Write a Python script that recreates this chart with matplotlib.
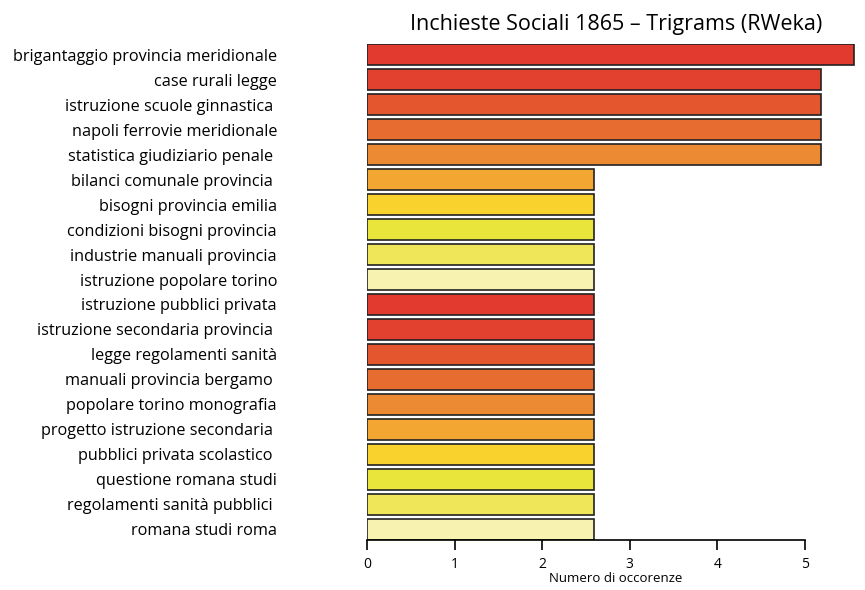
import matplotlib
matplotlib.use("Agg")
import matplotlib.pyplot as plt

labels = [
    "brigantaggio provincia meridionale",
    "case rurali legge",
    "istruzione scuole ginnastica ",
    "napoli ferrovie meridionale",
    "statistica giudiziario penale ",
    "bilanci comunale provincia ",
    "bisogni provincia emilia",
    "condizioni bisogni provincia",
    "industrie manuali provincia",
    "istruzione popolare torino",
    "istruzione pubblici privata",
    "istruzione secondaria provincia ",
    "legge regolamenti sanità",
    "manuali provincia bergamo ",
    "popolare torino monografia",
    "progetto istruzione secondaria ",
    "pubblici privata scolastico ",
    "questione romana studi",
    "regolamenti sanità pubblici ",
    "romana studi roma",
]
values = [5.56, 5.19, 5.19, 5.19, 5.19,
          2.59, 2.59, 2.59, 2.59, 2.59,
          2.59, 2.59, 2.59, 2.59, 2.59,
          2.59, 2.59, 2.59, 2.59, 2.59]
palette = ["#E23A2F", "#E2412F", "#E4572E", "#E76C30", "#EB8A33",
           "#F4A633", "#FAD22E", "#EAE53A", "#F0E65A", "#F8F2B0"]
colors = [palette[i % len(palette)] for i in range(len(values))]

plt.rcParams['font.family'] = ['Open Sans', 'DejaVu Sans']

fig = plt.figure(figsize=(8.65, 5.9), dpi=100)
ax = fig.add_axes([367.3 / 865, 1 - 540 / 590, (865 - 367.3) / 865, 496 / 590])

ypos = list(range(len(values)))
ax.barh(ypos, values, height=0.86, color=colors, edgecolor="#222222", linewidth=1.2)

ax.set_xlim(0, (865 - 367.3) / 87.5)
ax.set_ylim(19.43, -0.43)

ax.set_yticks(ypos)
ax.set_yticklabels(labels, fontsize=11.7)
ax.tick_params(axis='y', length=0, pad=65)

ax.set_xticks([0, 1, 2, 3, 4, 5])
ax.set_xticklabels(["0", "1", "2", "3", "4", "5"], fontsize=10)
ax.tick_params(axis='x', length=7, width=1.2, pad=5, direction='out')

for s in ["top", "right", "left"]:
    ax.spines[s].set_visible(False)
ax.spines["bottom"].set_bounds(0, 5)
ax.spines["bottom"].set_linewidth(1.2)

ax.set_xlabel("Numero di occorenze", fontsize=9.5, labelpad=0.5)
ax.set_title("Inchieste Sociali 1865 – Trigrams (RWeka)", fontsize=15.5, pad=10)

fig.savefig("out.png", dpi=100)
